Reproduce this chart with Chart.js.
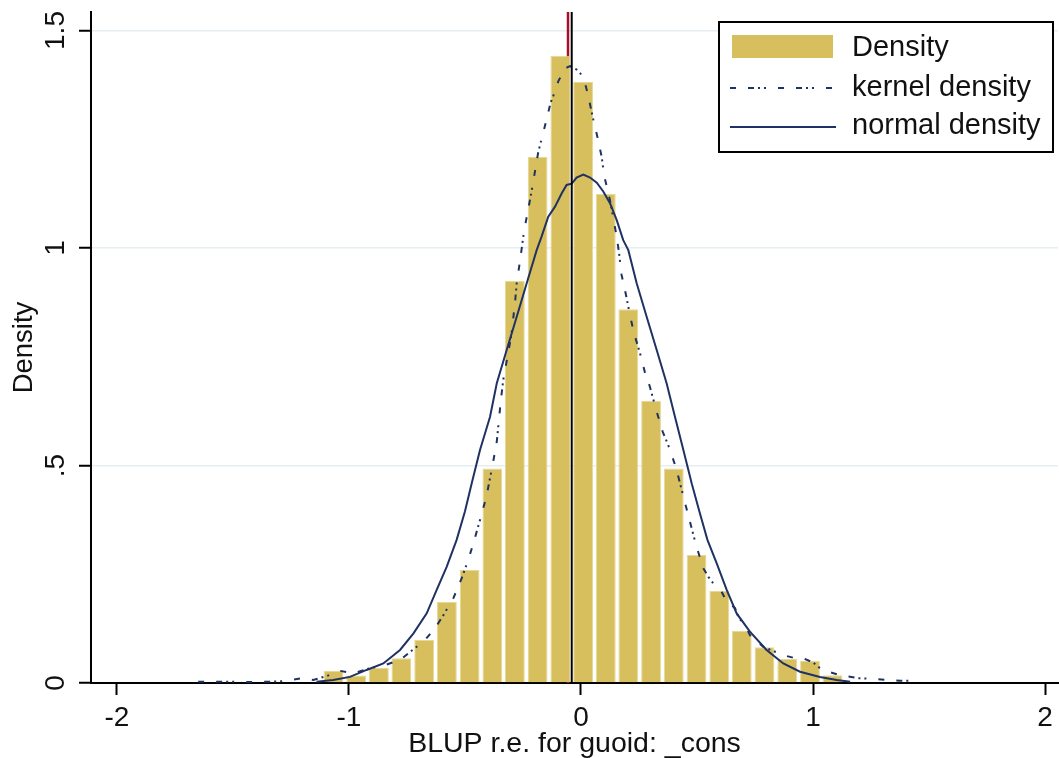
<!DOCTYPE html>
<html>
<head>
<meta charset="utf-8">
<script src="https://cdn.jsdelivr.net/npm/chart.js@4.4.1/dist/chart.umd.min.js"></script>
<style>
  html, body { margin: 0; padding: 0; background: #fff; }
</style>
</head>
<body>
<canvas id="chart" width="1059" height="758"></canvas>
<script>
// histogram bins (centre, density)
const binCenters = [-1.067, -0.969, -0.871, -0.774, -0.676, -0.578, -0.480, -0.382, -0.285, -0.187, -0.089,
  0.009, 0.107, 0.204, 0.302, 0.400, 0.498, 0.596, 0.693, 0.791, 0.889, 0.987, 1.084];
const binHeights = [0.028, 0.017, 0.035, 0.057, 0.099, 0.186, 0.26, 0.493, 0.924, 1.21, 1.442,
  1.382, 1.124, 0.859, 0.649, 0.493, 0.294, 0.212, 0.120, 0.082, 0.055, 0.051, 0.018];

// kernel density curve
const kernelX = [-1.65, -1.55, -1.40, -1.29, -1.20, -1.154, -1.096, -1.039, -0.981, -0.909, -0.845, -0.78,
  -0.716, -0.672, -0.629, -0.593, -0.55, -0.514, -0.486, -0.464, -0.435, -0.407, -0.378, -0.363, -0.346,
  -0.335, -0.30, -0.284, -0.277, -0.263, -0.245, -0.213, -0.184, -0.151, -0.131, -0.112, -0.098, -0.069,
  -0.047, -0.019, 0.01, 0.032, 0.05, 0.07, 0.089, 0.10, 0.125, 0.154, 0.165, 0.175, 0.194, 0.211, 0.228,
  0.254, 0.276, 0.297, 0.326, 0.352, 0.384, 0.412, 0.434, 0.465, 0.496, 0.527, 0.549, 0.57, 0.606, 0.625,
  0.664, 0.678, 0.714, 0.728, 0.786, 0.872, 0.915, 0.958, 1.001, 1.03, 1.073, 1.116, 1.195, 1.27, 1.375, 1.42];
const kernelY = [0.003, 0.003, 0.002, 0.004, 0.011, 0.007, 0.016, 0.028, 0.022, 0.034, 0.041, 0.053,
  0.08, 0.099, 0.126, 0.156, 0.195, 0.241, 0.283, 0.321, 0.375, 0.43, 0.51, 0.555, 0.647,
  0.697, 0.80, 0.877, 0.919, 0.97, 1.04, 1.13, 1.221, 1.29, 1.334, 1.36, 1.383, 1.413,
  1.418, 1.41, 1.394, 1.348, 1.302, 1.257, 1.21, 1.166, 1.11, 1.026, 0.984, 0.938, 0.892, 0.846, 0.805,
  0.759, 0.713, 0.681, 0.624, 0.578, 0.536, 0.49, 0.444, 0.38, 0.317, 0.264, 0.244, 0.229, 0.21, 0.19,
  0.172, 0.152, 0.126, 0.11, 0.083, 0.064, 0.058, 0.057, 0.047, 0.034, 0.025, 0.018, 0.011, 0.009, 0.005, 0.005];

// normal density curve
const normalX = [-1.14, -1.068, -0.996, -0.924, -0.852, -0.78, -0.722, -0.665, -0.622, -0.579, -0.536, -0.5,
  -0.471, -0.435, -0.392, -0.363, -0.32, -0.277, -0.234, -0.191, -0.17, -0.141, -0.112, -0.083, -0.062,
  -0.04, -0.019, 0.01, 0.039, 0.068, 0.096, 0.125, 0.154, 0.182, 0.204, 0.24, 0.283, 0.326, 0.369, 0.405,
  0.441, 0.477, 0.51, 0.545, 0.585, 0.628, 0.671, 0.728, 0.8, 0.872, 0.944, 1.03, 1.102, 1.16];
const normalY = [0.003, 0.007, 0.014, 0.03, 0.045, 0.076, 0.114, 0.16, 0.214, 0.267, 0.329, 0.395,
  0.459, 0.536, 0.612, 0.689, 0.766, 0.842, 0.919, 0.995, 1.026, 1.072, 1.095, 1.126, 1.145,
  1.148, 1.162, 1.169, 1.162, 1.15, 1.13, 1.103, 1.064, 1.018, 0.995, 0.919, 0.842, 0.766, 0.689, 0.612,
  0.536, 0.459, 0.395, 0.329, 0.275, 0.214, 0.16, 0.118, 0.076, 0.045, 0.026, 0.014, 0.007, 0.003];

// reference lines (black, and the red one behind the bars)
const meanLineX = -0.04;
const redLineX = -0.056;

const xRange = [-2.112, 2.056];
const yRange = [0, 1.5425];
const xTicks = [-2, -1, 0, 1, 2];
const yTicks = [0, 0.5, 1, 1.5];
const yTickLabels = ['0', '.5', '1', '1.5'];
const legendLabels = ['Density', 'kernel density', 'normal density'];

const FONT = "'Liberation Sans', Arial, sans-serif";
const GOLD = '#d7bf5e';
const NAVY = '#1f3263';
const TEXT = '#111111';
const kernelDash = [6, 12, 6, 4, 2, 4, 2, 12];

const zip = (xs, ys) => xs.map((x, i) => ({ x: x, y: ys[i] }));

// legend box in the top-right corner, Stata style
const stataLegend = {
  id: 'stataLegend',
  afterDraw(chart) {
    const ctx = chart.ctx;
    ctx.save();
    ctx.fillStyle = '#fff';
    ctx.fillRect(719, 22, 334, 130);
    ctx.strokeStyle = '#000';
    ctx.lineWidth = 2;
    ctx.strokeRect(719, 22, 334, 130);

    ctx.fillStyle = GOLD;
    ctx.fillRect(732, 35, 101, 23);

    ctx.strokeStyle = NAVY;
    ctx.lineWidth = 2;
    ctx.setLineDash(kernelDash);
    ctx.beginPath();
    ctx.moveTo(730, 88);
    ctx.lineTo(836, 88);
    ctx.stroke();
    ctx.setLineDash([]);
    ctx.beginPath();
    ctx.moveTo(730, 127);
    ctx.lineTo(836, 127);
    ctx.stroke();

    ctx.fillStyle = TEXT;
    ctx.font = '29px ' + FONT;
    ctx.textBaseline = 'middle';
    ctx.textAlign = 'left';
    const rowsY = [48, 88, 126];
    legendLabels.forEach((t, i) => ctx.fillText(t, 852, rowsY[i]));
    ctx.restore();
  }
};

new Chart(document.getElementById('chart'), {
  data: {
    datasets: [
      {
        type: 'bar',
        label: legendLabels[0],
        data: zip(binCenters, binHeights),
        backgroundColor: GOLD,
        borderColor: '#e8d896',
        borderWidth: 1,
        barPercentage: 0.88,
        categoryPercentage: 1,
        order: 3
      },
      {
        type: 'line',
        label: legendLabels[1],
        data: zip(kernelX, kernelY),
        borderColor: NAVY,
        borderWidth: 2,
        borderDash: kernelDash,
        pointRadius: 0,
        tension: 0,
        order: 1
      },
      {
        type: 'line',
        label: legendLabels[2],
        data: zip(normalX, normalY),
        borderColor: NAVY,
        borderWidth: 2,
        pointRadius: 0,
        tension: 0,
        order: 1
      },
      {
        type: 'line',
        label: 'mean',
        data: [{ x: meanLineX, y: yRange[0] }, { x: meanLineX, y: yRange[1] }],
        borderColor: '#000',
        borderWidth: 2,
        pointRadius: 0,
        order: 0
      },
      {
        type: 'line',
        label: 'ref',
        data: [{ x: redLineX, y: yRange[0] }, { x: redLineX, y: yRange[1] }],
        borderColor: '#a3102e',
        borderWidth: 2.5,
        pointRadius: 0,
        order: 4
      }
    ]
  },
  options: {
    responsive: false,
    animation: false,
    layout: { padding: { top: 12, right: 1, left: 0, bottom: 0 } },
    plugins: {
      legend: { display: false },
      tooltip: { enabled: false }
    },
    scales: {
      x: {
        type: 'linear',
        min: xRange[0],
        max: xRange[1],
        offset: false,
        afterBuildTicks: s => { s.ticks = xTicks.map(v => ({ value: v })); },
        afterFit: s => { s.height = 75; s.paddingLeft = 0; s.paddingRight = 0; },
        grid: { offset: false, drawOnChartArea: false, drawTicks: true, tickLength: 12, tickColor: '#000', tickWidth: 2 },
        border: { color: '#000', width: 2 },
        ticks: {
          maxRotation: 0,
          padding: 6,
          color: TEXT,
          font: { family: FONT, size: 28 },
          callback: v => String(v)
        },
        title: {
          display: true,
          text: 'BLUP r.e. for guoid: _cons',
          color: TEXT,
          font: { family: FONT, size: 28.5, lineHeight: 1 },
          padding: { top: 0, bottom: 0 }
        }
      },
      y: {
        type: 'linear',
        min: yRange[0],
        max: yRange[1],
        afterBuildTicks: s => { s.ticks = yTicks.map(v => ({ value: v })); },
        afterFit: s => { s.width = 91; s.paddingTop = 0; s.paddingBottom = 0; },
        grid: { color: '#e6eef1', lineWidth: 1.5, drawTicks: true, tickLength: 12, tickColor: '#000', tickWidth: 2 },
        border: { color: '#000', width: 2 },
        ticks: {
          minRotation: 90,
          maxRotation: 90,
          crossAlign: 'center',
          padding: 3,
          color: TEXT,
          font: { family: FONT, size: 28 },
          callback: (v, i) => yTickLabels[i]
        },
        title: {
          display: true,
          text: 'Density',
          color: TEXT,
          font: { family: FONT, size: 27.5, lineHeight: 1 },
          padding: { top: 11, bottom: 0 }
        }
      }
    }
  },
  plugins: [stataLegend]
});
</script>
</body>
</html>
